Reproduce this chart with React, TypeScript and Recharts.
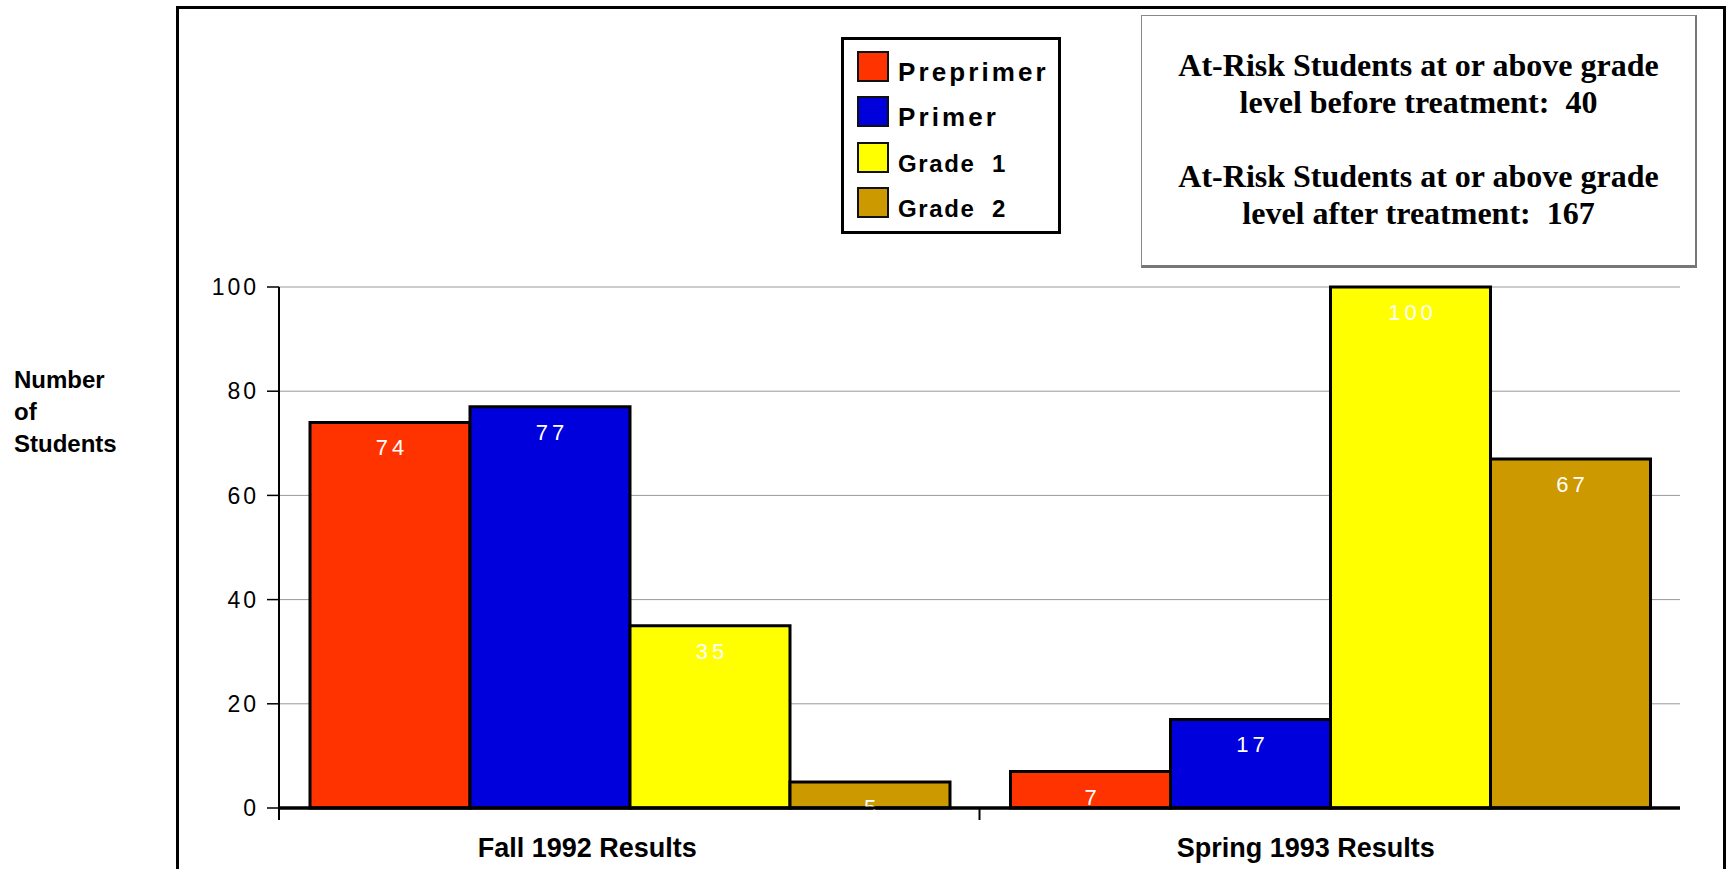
import React from 'react';
import { BarChart, Bar, XAxis, YAxis, CartesianGrid, Legend, LabelList, ReferenceLine } from 'recharts';

// ---- data ----
const categories = ['Fall 1992 Results', 'Spring 1993 Results'];
const preprimer = [74, 7];
const primer = [77, 17];
const grade1 = [35, 100];
const grade2 = [5, 67];
const yTicks = [0, 20, 40, 60, 80, 100];
const seriesNames = ['Preprimer', 'Primer', 'Grade  1', 'Grade  2'];
const yLabelLines = ['Number', 'of', 'Students'];
const summaryLines = [
  'At-Risk Students at or above grade',
  'level before treatment:  40',
  '',
  'At-Risk Students at or above grade',
  'level after treatment:  167',
];

// ---- style ----
const SANS = '"Liberation Sans", Arial, Helvetica, sans-serif';
const SERIF = '"Liberation Serif", "Times New Roman", Times, serif';
const W = 1728;
const H = 869;
const seriesStyle = [
  { key: 'preprimer', color: '#FF3300', legendSize: 26, legendSpacing: 3.1 },
  { key: 'primer', color: '#0000DD', legendSize: 26, legendSpacing: 3.1 },
  { key: 'grade1', color: '#FFFF00', legendSize: 24, legendSpacing: 1.6 },
  { key: 'grade2', color: '#CC9900', legendSize: 24, legendSpacing: 1.6 },
];
const categoryLabelShift = [-42, -24];

const rows = categories.map((category, i) => ({
  category,
  preprimer: preprimer[i],
  primer: primer[i],
  grade1: grade1[i],
  grade2: grade2[i],
}));

const CategoryTick = (props: any) => {
  const { x, y, payload, index } = props;
  const half = payload && typeof payload.offset === 'number' ? payload.offset : 0;
  const shift = categoryLabelShift[index] ?? 0;
  return (
    <g>
      <line x1={x - half} x2={x - half} y1={y} y2={y + 12} stroke="#000" strokeWidth={2} />
      <text
        x={x + shift}
        y={y + 49}
        textAnchor="middle"
        fontSize={27}
        fontWeight="bold"
        fontFamily={SANS}
        fill="#000"
      >
        {payload.value}
      </text>
    </g>
  );
};

const ValueLabel = (props: any) => {
  const vb = props.viewBox && typeof props.viewBox.x === 'number' ? props.viewBox : props;
  const { x, y, width } = vb;
  return (
    <text
      x={x + width / 2 + 2}
      y={y + 33}
      textAnchor="middle"
      fill="#fff"
      fontSize={22}
      fontFamily={SANS}
      letterSpacing={4}
    >
      {props.value}
    </text>
  );
};

const LegendBox = (props: any) => {
  const entries = props.payload ?? [];
  // keep series order (Preprimer, Primer, Grade 1, Grade 2)
  const items = seriesStyle.map((st, i) => {
    const e = entries.find((p: any) => p.dataKey === st.key);
    return { st, label: seriesNames[i], color: e?.color ?? st.color };
  });
  return (
    <div
      style={{
        boxSizing: 'border-box',
        width: 220,
        height: 197,
        border: '3px solid #000',
        background: '#fff',
        position: 'relative',
      }}
    >
      {items.map((it, i) => (
        <div
          key={i}
          style={{
            position: 'absolute',
            left: 13,
            top: 11 + i * 45.3,
            height: 31,
            display: 'flex',
            alignItems: 'flex-end',
          }}
        >
          <div
            style={{
              width: 32,
              height: 31,
              boxSizing: 'border-box',
              background: it.color,
              border: '2px solid #111',
            }}
          />
          <span
            style={{
              marginLeft: 9,
              marginBottom: -3,
              fontFamily: SANS,
              fontWeight: 'bold',
              fontSize: it.st.legendSize,
              letterSpacing: it.st.legendSpacing,
              whiteSpace: 'pre',
              lineHeight: 1,
              color: '#000',
            }}
          >
            {it.label}
          </span>
        </div>
      ))}
    </div>
  );
};

export default function App() {
  return (
    <div style={{ position: 'absolute', left: 0, top: 0, width: W, height: H, overflow: 'hidden', background: '#fff' }}>
      {/* outer frame */}
      <div
        style={{
          position: 'absolute',
          left: 176,
          top: 6,
          width: 1550,
          height: 920,
          boxSizing: 'border-box',
          border: '3px solid #000',
        }}
      />

      {/* vertical axis title */}
      <div
        style={{
          position: 'absolute',
          left: 14,
          top: 364,
          fontFamily: SANS,
          fontWeight: 'bold',
          fontSize: 24,
          lineHeight: '32px',
          color: '#000',
        }}
      >
        {yLabelLines.map((l, i) => (
          <div key={i}>{l}</div>
        ))}
      </div>

      {/* summary box */}
      <div
        style={{
          position: 'absolute',
          left: 1141,
          top: 15,
          width: 556,
          height: 253,
          boxSizing: 'border-box',
          borderLeft: '1px solid #888',
          borderTop: '1px solid #888',
          borderRight: '2px solid #777',
          borderBottom: '3px solid #777',
          background: '#fff',
        }}
      >
        <div
          style={{
            position: 'absolute',
            left: 0,
            right: 0,
            top: 31,
            textAlign: 'center',
            fontFamily: SERIF,
            fontWeight: 'bold',
            fontSize: 32,
            lineHeight: '37px',
            color: '#000',
            whiteSpace: 'pre',
          }}
        >
          {summaryLines.map((l, i) => (
            <div key={i} style={{ height: 37 }}>{l}</div>
          ))}
        </div>
      </div>

      <div style={{ position: 'absolute', left: 0, top: 0 }}>
        <BarChart
          width={W}
          height={H}
          data={rows}
          margin={{ top: 287, right: 48, bottom: 1, left: 219 }}
          barCategoryGap={31}
          barGap={0}
        >
          <CartesianGrid vertical={false} stroke="#999" strokeWidth={1} />
          <XAxis
            dataKey="category"
            height={60}
            tickSize={0}
            tickMargin={0}
            tickLine={false}
            axisLine={{ stroke: '#000', strokeWidth: 3 }}
            tick={<CategoryTick />}
            interval={0}
          />
          <YAxis
            domain={[0, 100]}
            ticks={yTicks}
            interval={0}
            width={60}
            tickSize={12}
            tickMargin={8}
            axisLine={{ stroke: '#000', strokeWidth: 2 }}
            tickLine={{ stroke: '#000', strokeWidth: 1.5 }}
            tick={{ fontSize: 23, fill: '#000', fontFamily: SANS, letterSpacing: 3 }}
          />
          <Legend
            layout="horizontal"
            verticalAlign="middle"
            align="center"
            content={<LegendBox />}
            wrapperStyle={{ left: 841, top: 37, width: 220, height: 197 }}
          />
          {seriesStyle.map((s, i) => (
            <Bar
              key={s.key}
              dataKey={s.key}
              name={seriesNames[i]}
              fill={s.color}
              stroke="#000"
              strokeWidth={3}
              isAnimationActive={false}
            >
              <LabelList dataKey={s.key} content={<ValueLabel />} />
            </Bar>
          ))}
          <ReferenceLine y={0} stroke="#000" strokeWidth={3} zIndex={2500} />
        </BarChart>
      </div>
    </div>
  );
}
